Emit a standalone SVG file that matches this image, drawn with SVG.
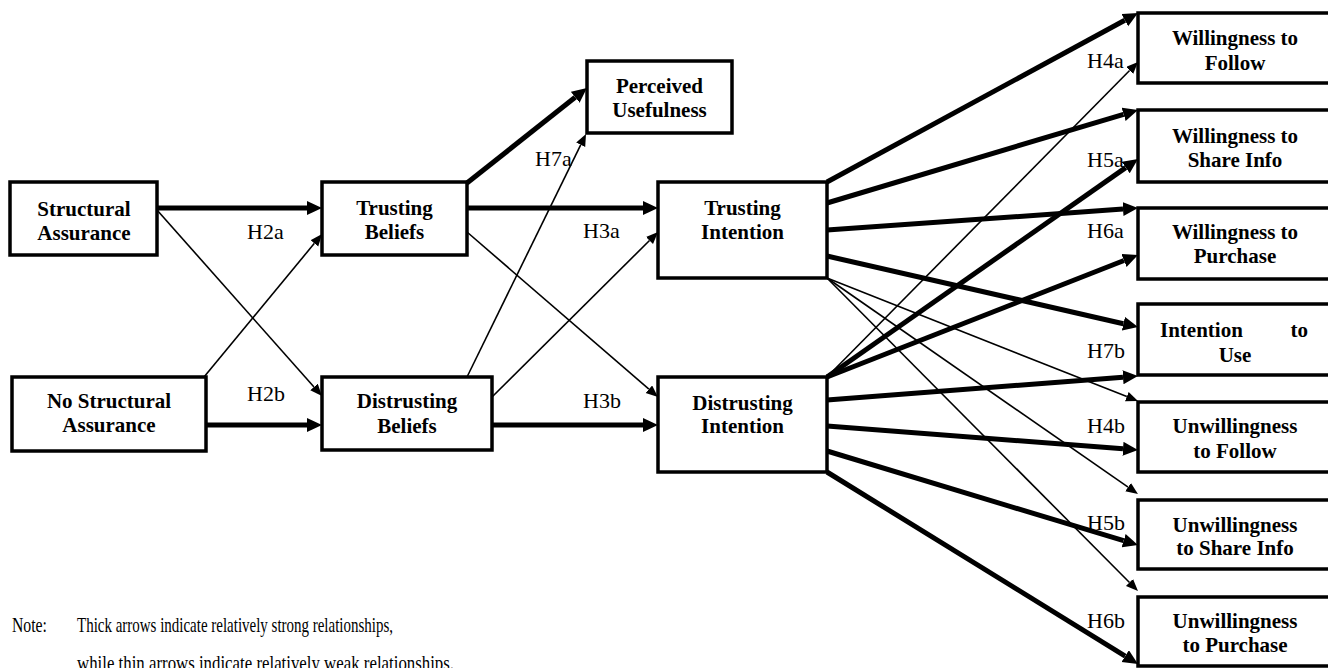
<svg xmlns="http://www.w3.org/2000/svg" width="1328" height="668" viewBox="0 0 1328 668">
<style>
.box{fill:#fff;stroke:#000;stroke-width:3.5}
.bt{font-family:"Liberation Serif","Times New Roman",serif;font-weight:bold;font-size:21px;fill:#000;text-anchor:middle}
.lbl{font-family:"Liberation Serif","Times New Roman",serif;font-size:22px;fill:#000}
.note{font-family:"Liberation Serif","Times New Roman",serif;font-size:22px;fill:#000}
.T{stroke:#000;stroke-width:5;fill:none;marker-end:url(#ah)}
.t{stroke:#000;stroke-width:1.6;fill:none;marker-end:url(#as)}
</style>
<defs>
<marker id="ah" markerUnits="userSpaceOnUse" markerWidth="16" markerHeight="15" refX="0" refY="7" orient="auto"><path d="M0,0 L15,7 L0,14 z" fill="#000"/></marker>
<marker id="as" markerUnits="userSpaceOnUse" markerWidth="13" markerHeight="11" refX="0" refY="5" orient="auto"><path d="M0,0 L12,5 L0,10 z" fill="#000"/></marker>
</defs>
<rect width="1328" height="668" fill="#fff"/>
<g id="connectors">
<line class="T" x1="157" y1="208" x2="307" y2="208"/>
<line class="t" x1="157" y1="210" x2="314" y2="387"/>
<line class="t" x1="204" y1="377" x2="314.4" y2="243.3"/>
<line class="T" x1="206" y1="425" x2="307" y2="425"/>
<line class="T" x1="467" y1="183" x2="575.2" y2="97.3"/>
<line class="t" x1="467" y1="377" x2="580.7" y2="144.8"/>
<line class="T" x1="467" y1="208" x2="643" y2="208"/>
<line class="t" x1="467" y1="232" x2="648.9" y2="389.2"/>
<line class="t" x1="492" y1="397" x2="649.5" y2="240.5"/>
<line class="T" x1="492" y1="425" x2="643" y2="425"/>
<line class="T" x1="827" y1="182" x2="1124.8" y2="20.2"/>
<line class="T" x1="827" y1="203" x2="1123.6" y2="114.3"/>
<line class="T" x1="827" y1="230" x2="1123" y2="209.1"/>
<line class="T" x1="827" y1="256" x2="1123.4" y2="323.7"/>
<line class="t" x1="827" y1="278" x2="1126.8" y2="396.6"/>
<line class="t" x1="827" y1="278" x2="1128.1" y2="487.2"/>
<line class="t" x1="827" y1="278" x2="1129.5" y2="582.5"/>
<line class="t" x1="827" y1="377" x2="1129.6" y2="70.5"/>
<line class="T" x1="827" y1="377" x2="1125.7" y2="167.6"/>
<line class="T" x1="827" y1="377" x2="1124" y2="260.5"/>
<line class="T" x1="827" y1="400" x2="1123" y2="377.2"/>
<line class="T" x1="827" y1="426" x2="1123" y2="448.8"/>
<line class="T" x1="827" y1="451" x2="1123.6" y2="540.7"/>
<line class="T" x1="827" y1="472" x2="1125.2" y2="656.1"/>
</g>
<g id="labels">
<text class="lbl" x="247" y="239">H2a</text>
<text class="lbl" x="247" y="401">H2b</text>
<text class="lbl" x="535" y="166">H7a</text>
<text class="lbl" x="583" y="238">H3a</text>
<text class="lbl" x="583" y="408">H3b</text>
<text class="lbl" x="1087" y="68">H4a</text>
<text class="lbl" x="1087" y="167">H5a</text>
<text class="lbl" x="1087" y="238">H6a</text>
<text class="lbl" x="1087" y="358">H7b</text>
<text class="lbl" x="1087" y="433">H4b</text>
<text class="lbl" x="1087" y="530">H5b</text>
<text class="lbl" x="1087" y="628">H6b</text>
</g>
<g id="structural-assurance"><rect class="box" x="10" y="182" width="147" height="73"/><text class="bt" x="84" y="216">Structural</text><text class="bt" x="84" y="240">Assurance</text></g>
<g id="no-structural-assurance"><rect class="box" x="12" y="377" width="194" height="74"/><text class="bt" x="109" y="408">No Structural</text><text class="bt" x="109" y="432">Assurance</text></g>
<g id="trusting-beliefs"><rect class="box" x="322" y="182" width="145" height="73"/><text class="bt" x="394.5" y="215">Trusting</text><text class="bt" x="394.5" y="239">Beliefs</text></g>
<g id="distrusting-beliefs"><rect class="box" x="322" y="377" width="170" height="73"/><text class="bt" x="407" y="408">Distrusting</text><text class="bt" x="407" y="433">Beliefs</text></g>
<g id="perceived-usefulness"><rect class="box" x="587" y="61" width="145" height="72"/><text class="bt" x="659.5" y="93">Perceived</text><text class="bt" x="659.5" y="117">Usefulness</text></g>
<g id="trusting-intention"><rect class="box" x="658" y="182" width="169" height="96"/><text class="bt" x="742.5" y="215">Trusting</text><text class="bt" x="742.5" y="239">Intention</text></g>
<g id="distrusting-intention"><rect class="box" x="658" y="377" width="169" height="95"/><text class="bt" x="742.5" y="410">Distrusting</text><text class="bt" x="742.5" y="433">Intention</text></g>
<g id="willingness-follow"><rect class="box" x="1138" y="13" width="194" height="70"/><text class="bt" x="1235" y="45">Willingness to</text><text class="bt" x="1235" y="70">Follow</text></g>
<g id="willingness-share"><rect class="box" x="1138" y="110" width="194" height="72"/><text class="bt" x="1235" y="143">Willingness to</text><text class="bt" x="1235" y="167">Share Info</text></g>
<g id="willingness-purchase"><rect class="box" x="1138" y="208" width="194" height="71"/><text class="bt" x="1235" y="239">Willingness to</text><text class="bt" x="1235" y="263">Purchase</text></g>
<g id="intention-use"><rect class="box" x="1138" y="304" width="194" height="71"/><text class="bt" y="337"><tspan x="1160" text-anchor="start">Intention</tspan><tspan x="1308" text-anchor="end"> to</tspan></text><text class="bt" x="1235" y="362">Use</text></g>
<g id="unwillingness-follow"><rect class="box" x="1138" y="402" width="194" height="70"/><text class="bt" x="1235" y="433">Unwillingness</text><text class="bt" x="1235" y="458">to Follow</text></g>
<g id="unwillingness-share"><rect class="box" x="1138" y="500" width="194" height="69"/><text class="bt" x="1235" y="532">Unwillingness</text><text class="bt" x="1235" y="555">to Share Info</text></g>
<g id="unwillingness-purchase"><rect class="box" x="1138" y="597" width="194" height="69"/><text class="bt" x="1235" y="628">Unwillingness</text><text class="bt" x="1235" y="652">to Purchase</text></g>
<g id="note">
<text class="note" x="12" y="632" textLength="35" lengthAdjust="spacingAndGlyphs">Note:</text>
<text class="note" x="77" y="632" textLength="316" lengthAdjust="spacingAndGlyphs">Thick arrows indicate relatively strong relationships,</text>
<text class="note" x="77" y="670" textLength="377" lengthAdjust="spacingAndGlyphs">while thin arrows indicate relatively weak relationships.</text>
</g>
</svg>
